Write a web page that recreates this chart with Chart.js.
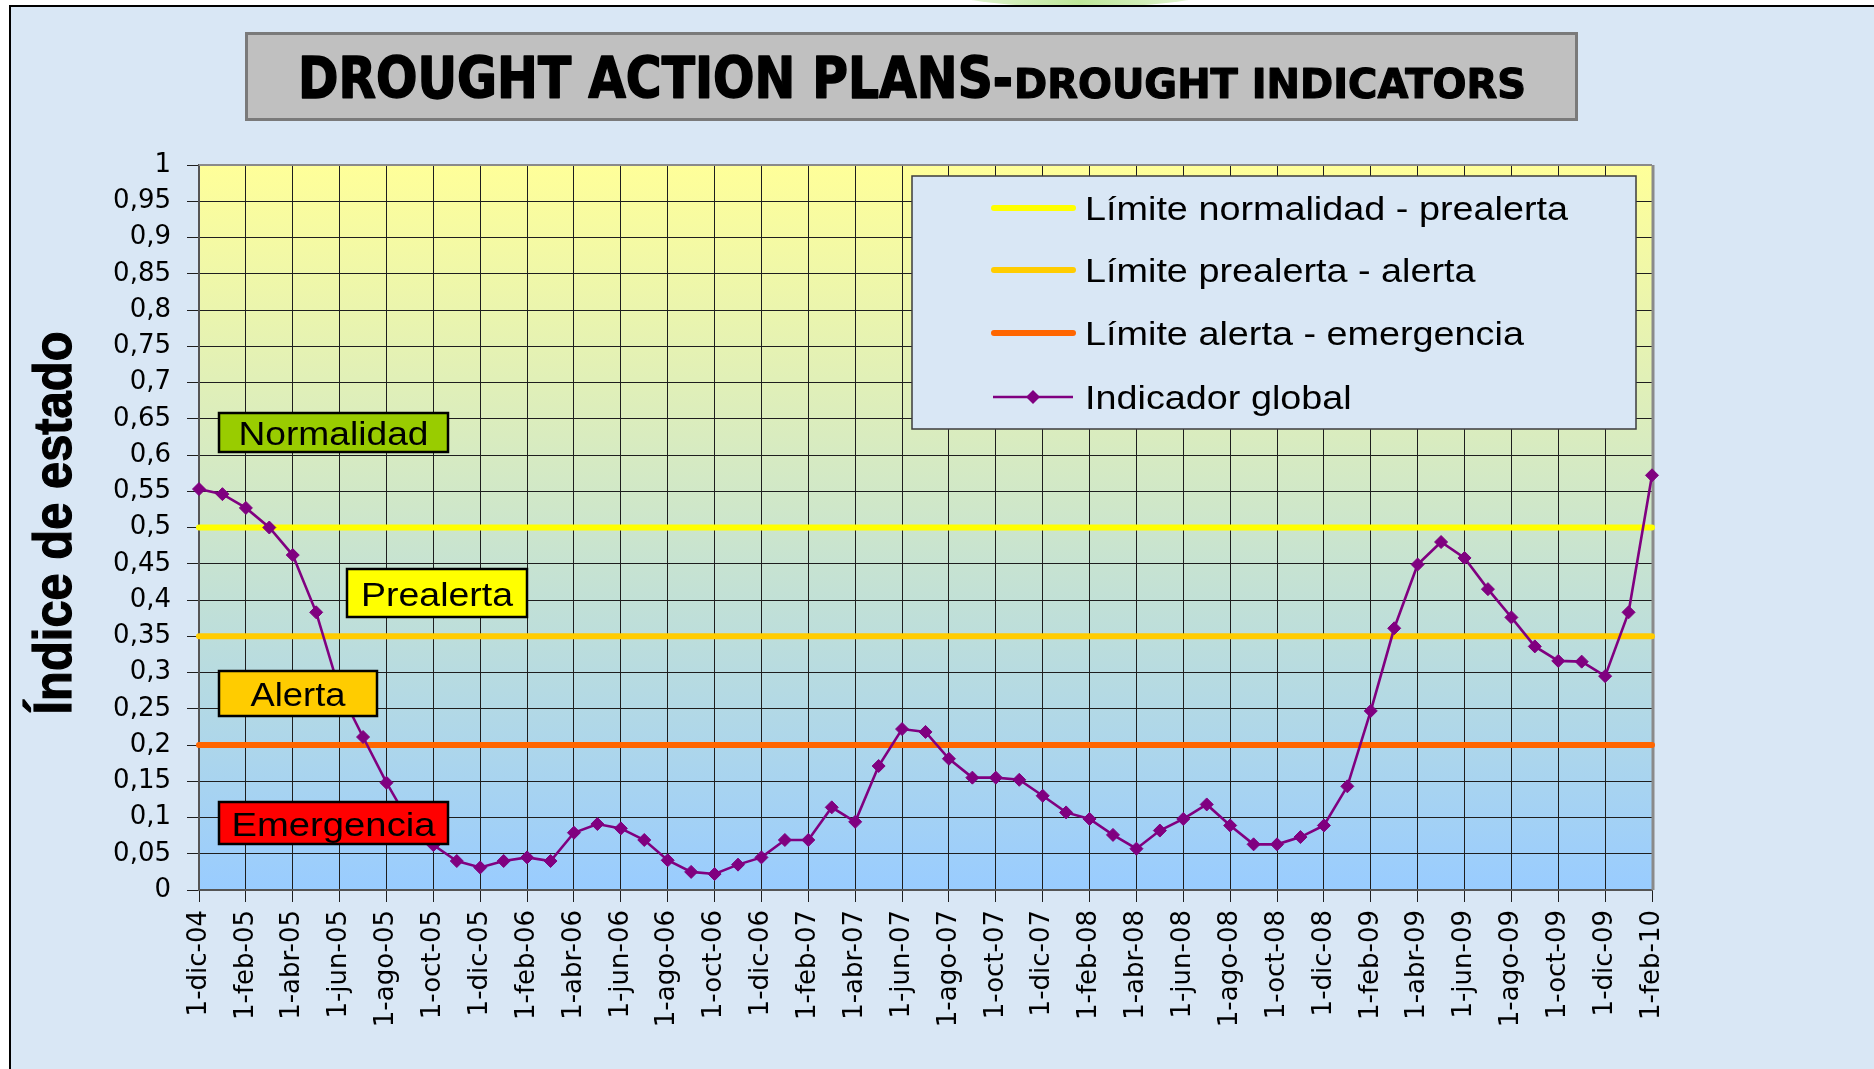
<!DOCTYPE html>
<html>
<head>
<meta charset="utf-8">
<script src="https://cdn.jsdelivr.net/npm/chart.js@4.4.1/dist/chart.umd.min.js"></script>
<style>
html,body{margin:0;padding:0;background:#fff;overflow:hidden}
canvas{display:block}
</style>
</head>
<body>
<canvas id="c" width="1874" height="1069"></canvas>
<script>
// ---------- DATA ----------
const monthLabels = [
  '1-dic-04',
  '1-ene-05','1-feb-05','1-mar-05','1-abr-05','1-may-05','1-jun-05','1-jul-05','1-ago-05','1-sep-05','1-oct-05','1-nov-05','1-dic-05',
  '1-ene-06','1-feb-06','1-mar-06','1-abr-06','1-may-06','1-jun-06','1-jul-06','1-ago-06','1-sep-06','1-oct-06','1-nov-06','1-dic-06',
  '1-ene-07','1-feb-07','1-mar-07','1-abr-07','1-may-07','1-jun-07','1-jul-07','1-ago-07','1-sep-07','1-oct-07','1-nov-07','1-dic-07',
  '1-ene-08','1-feb-08','1-mar-08','1-abr-08','1-may-08','1-jun-08','1-jul-08','1-ago-08','1-sep-08','1-oct-08','1-nov-08','1-dic-08',
  '1-ene-09','1-feb-09','1-mar-09','1-abr-09','1-may-09','1-jun-09','1-jul-09','1-ago-09','1-sep-09','1-oct-09','1-nov-09','1-dic-09',
  '1-ene-10','1-feb-10'
];

const indicadorGlobal = [
  0.553,
  0.546,0.527,0.500,0.462,0.383,0.275,0.211,0.148,0.092,0.062,0.040,0.031,
  0.040,0.045,0.040,0.079,0.091,0.085,0.069,0.041,0.025,0.022,0.035,0.045,
  0.069,0.069,0.114,0.094,0.171,0.222,0.218,0.181,0.155,0.155,0.152,0.130,
  0.107,0.098,0.076,0.057,0.082,0.098,0.118,0.089,0.063,0.063,0.073,0.089,
  0.143,0.247,0.361,0.449,0.480,0.458,0.415,0.376,0.336,0.316,0.315,0.295,
  0.383,0.572
];

const seriesNames = [
  'Límite normalidad - prealerta',
  'Límite prealerta - alerta',
  'Límite alerta - emergencia',
  'Indicador global'
];
const limitValues = [0.5, 0.35, 0.2];
const stateNames = ['Normalidad', 'Prealerta', 'Alerta', 'Emergencia'];
const titleMain = 'DROUGHT ACTION PLANS-';
const titleSub = 'DROUGHT INDICATORS';
const yAxisTitle = 'Índice de estado';

// ---------- STYLE ----------
const W = 1874, H = 1069;
const limitColors = ['#FFFF00', '#FFCC00', '#FF6600'];
const purple = '#800080';
const stateBoxes = [
  {x0:219, y0:413, x1:448, y1:452, fill:'#99CC00', tw:190},
  {x0:347, y0:569, x1:527, y1:617, fill:'#FFFF00', tw:152},
  {x0:219, y0:671, x1:377, y1:716, fill:'#FFCC00', tw:95},
  {x0:219, y0:802, x1:448, y1:844, fill:'#FF0000', tw:204}
];

function fmtTick(v){
  return String(parseFloat(Number(v).toFixed(2))).replace('.', ',');
}

function fitText(ctx, text, x, y, font, targetW, align, strokeW){
  ctx.save();
  ctx.font = font;
  const w = ctx.measureText(text).width;
  const s = targetW / w;
  ctx.translate(x, y);
  ctx.scale(s, 1);
  ctx.textAlign = align || 'left';
  ctx.textBaseline = 'alphabetic';
  ctx.fillText(text, 0, 0);
  if (strokeW){
    ctx.lineWidth = strokeW;
    ctx.strokeStyle = ctx.fillStyle;
    ctx.lineJoin = 'round';
    ctx.strokeText(text, 0, 0);
  }
  ctx.restore();
}

const decor = {
  id: 'decor',
  beforeDraw(chart){
    const ctx = chart.ctx, a = chart.chartArea;
    ctx.save();
    ctx.fillStyle = '#ffffff';
    ctx.fillRect(0, 0, W, H);
    // partial logo at top
    const lg = ctx.createLinearGradient(955, 0, 1205, 0);
    lg.addColorStop(0, '#e4f5d6'); lg.addColorStop(0.5, '#bfe89a'); lg.addColorStop(1, '#e4f5d6');
    ctx.fillStyle = lg;
    ctx.beginPath(); ctx.ellipse(1080, -8, 128, 15, 0, 0, Math.PI*2); ctx.fill();
    // page background
    ctx.fillStyle = '#d9e7f5';
    ctx.fillRect(10, 6, W - 10, H - 6);
    ctx.strokeStyle = '#000'; ctx.lineWidth = 2;
    ctx.beginPath(); ctx.moveTo(10, H); ctx.lineTo(10, 6); ctx.lineTo(W, 6); ctx.stroke();

    // plot area gradient
    const g = ctx.createLinearGradient(0, a.top, 0, a.bottom);
    g.addColorStop(0, '#FFFF99');
    g.addColorStop(1, '#99CCFF');
    ctx.fillStyle = g;
    ctx.fillRect(a.left, a.top, a.right - a.left, a.bottom - a.top);

    // title box
    ctx.fillStyle = '#C0C0C0';
    ctx.fillRect(245, 32, 1333, 89);
    ctx.strokeStyle = '#7a7a7a'; ctx.lineWidth = 3;
    ctx.strokeRect(246.5, 33.5, 1330, 86);
    ctx.fillStyle = '#000';
    fitText(ctx, titleMain, 298, 98, 'bold 57px "DejaVu Sans"', 715, 'left', 1.6);
    fitText(ctx, titleSub, 1014, 98, 'bold 40px "DejaVu Sans"', 512, 'left', 1.2);

    // y axis title
    ctx.save();
    ctx.translate(71, 523);
    ctx.rotate(-Math.PI/2);
    ctx.font = 'bold 53px "Liberation Sans"';
    const w = ctx.measureText(yAxisTitle).width;
    ctx.scale(383 / w, 1);
    ctx.textAlign = 'center';
    ctx.fillStyle = '#000';
    ctx.fillText(yAxisTitle, 0, 0);
    ctx.lineWidth = 1.2; ctx.strokeStyle = '#000';
    ctx.strokeText(yAxisTitle, 0, 0);
    ctx.restore();
    ctx.restore();
  },
  beforeDatasetsDraw(chart){
    const ctx = chart.ctx, a = chart.chartArea;
    ctx.save();
    ctx.strokeStyle = '#8a8a8a'; ctx.lineWidth = 2;
    ctx.beginPath();
    ctx.moveTo(a.left, a.top); ctx.lineTo(a.right, a.top);
    ctx.stroke();
    ctx.lineWidth = 3;
    ctx.beginPath(); ctx.moveTo(a.right + 1, a.top); ctx.lineTo(a.right + 1, a.bottom); ctx.stroke();
    ctx.restore();
  },
  afterDatasetsDraw(chart){
    const ctx = chart.ctx;
    ctx.save();
    // state label boxes
    stateBoxes.forEach((b, i) => {
      ctx.fillStyle = b.fill;
      ctx.fillRect(b.x0, b.y0, b.x1 - b.x0, b.y1 - b.y0);
      ctx.strokeStyle = '#000'; ctx.lineWidth = 2.5;
      ctx.strokeRect(b.x0, b.y0, b.x1 - b.x0, b.y1 - b.y0);
      ctx.fillStyle = '#000';
      const cy = (b.y0 + b.y1) / 2;
      fitText(ctx, stateNames[i], (b.x0 + b.x1) / 2, cy + 12.5, '34px "Liberation Sans"', b.tw, 'center');
    });

    // legend
    const lx0 = 912, ly0 = 176, lx1 = 1636, ly1 = 429;
    ctx.fillStyle = '#d9e7f5';
    ctx.fillRect(lx0, ly0, lx1 - lx0, ly1 - ly0);
    ctx.strokeStyle = '#3c3c3c'; ctx.lineWidth = 1.5;
    ctx.strokeRect(lx0, ly0, lx1 - lx0, ly1 - ly0);
    const rows = [208, 270, 333, 397];
    ctx.font = '33px "Liberation Sans"';
    const sx = 483 / ctx.measureText(seriesNames[0]).width;
    rows.forEach((ry, i) => {
      ctx.lineCap = 'round';
      if (i < 3){
        ctx.strokeStyle = limitColors[i]; ctx.lineWidth = 6;
        ctx.beginPath(); ctx.moveTo(994, ry); ctx.lineTo(1073, ry); ctx.stroke();
      } else {
        ctx.strokeStyle = purple; ctx.lineWidth = 2.4;
        ctx.lineCap = 'butt';
        ctx.beginPath(); ctx.moveTo(993, ry); ctx.lineTo(1073, ry); ctx.stroke();
        ctx.fillStyle = purple;
        ctx.beginPath();
        ctx.moveTo(1033, ry - 7); ctx.lineTo(1040, ry); ctx.lineTo(1033, ry + 7); ctx.lineTo(1026, ry);
        ctx.closePath(); ctx.fill();
      }
      ctx.save();
      ctx.fillStyle = '#000';
      ctx.font = '33px "Liberation Sans"';
      ctx.translate(1085, ry + 12);
      ctx.scale(sx, 1);
      ctx.textAlign = 'left';
      ctx.fillText(seriesNames[i], 0, 0);
      ctx.restore();
    });
    ctx.restore();
  }
};

const gridDark = '#1e1e1e';

const datasets = [
  {
    label: seriesNames[3], data: indicadorGlobal, order: 0,
    borderColor: purple, backgroundColor: purple, borderWidth: 2.6,
    pointStyle: 'rectRot', pointRadius: 6.5, pointBorderWidth: 1,
    pointBackgroundColor: purple, pointBorderColor: purple, tension: 0
  }
];
limitValues.forEach((v, i) => {
  datasets.push({
    label: seriesNames[i],
    data: Array(monthLabels.length).fill(v),
    order: 1, borderColor: limitColors[i], borderWidth: 6,
    pointRadius: 0, borderCapStyle: 'round', clip: 8, tension: 0
  });
});

new Chart(document.getElementById('c').getContext('2d'), {
  type: 'line',
  data: { labels: monthLabels, datasets },
  options: {
    responsive: false,
    animation: false,
    events: [],
    layout: { padding: { left: 0, top: 165, right: 222, bottom: 0 } },
    plugins: { legend: { display: false }, tooltip: { enabled: false }, title: { display: false } },
    scales: {
      x: {
        type: 'category',
        offset: false,
        grid: {
          color: c => (c.index % 2 === 0 ? gridDark : 'rgba(0,0,0,0)'),
          lineWidth: 1, tickLength: 12, drawTicks: true
        },
        border: { color: '#555', width: 2 },
        ticks: {
          autoSkip: false, maxRotation: 90, minRotation: 90, padding: 8,
          color: '#000', font: { family: 'DejaVu Sans', size: 26 },
          callback: (v, i) => (i % 2 === 0 ? monthLabels[i] : '')
        },
        afterFit: s => { s.height = H - 890; }
      },
      y: {
        min: 0, max: 1,
        ticks: {
          stepSize: 0.05, padding: 16, color: '#000',
          font: { family: 'DejaVu Sans', size: 26 },
          callback: v => fmtTick(v)
        },
        grid: { color: gridDark, lineWidth: 1, tickLength: 12 },
        border: { color: '#555', width: 2 },
        afterFit: s => { s.width = 199; }
      }
    }
  },
  plugins: [decor]
});
</script>
</body>
</html>
